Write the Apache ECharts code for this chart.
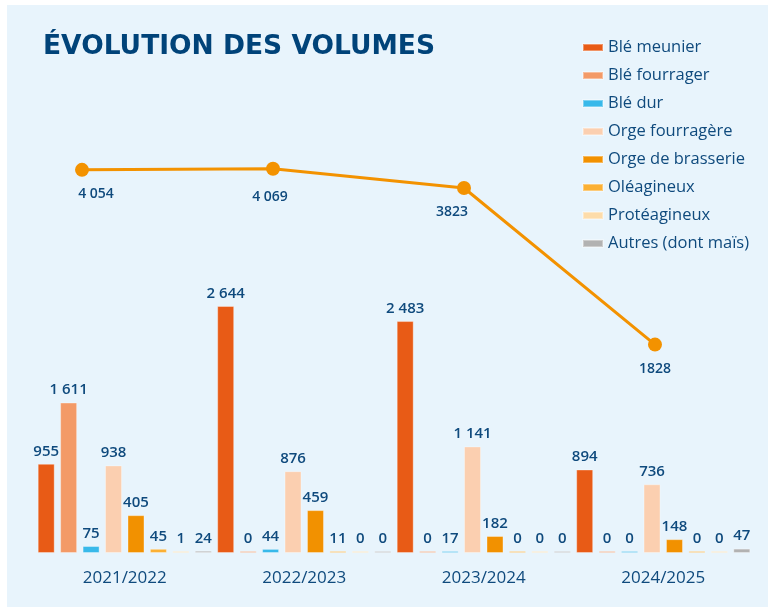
<!DOCTYPE html>
<html>
<head>
<meta charset="utf-8">
<script src="https://cdn.jsdelivr.net/npm/echarts@6/dist/echarts.min.js"></script>
<style>
  html, body { margin: 0; padding: 0; background: #fff; }
  #main { width: 773px; height: 611px; }
</style>
</head>
<body>
<div id="main"></div>
<script>
// campagnes
var campagnes = ['2021/2022', '2022/2023', '2023/2024', '2024/2025'];
// volumes par culture
var bleMeunier = [955, 2644, 2483, 894];
var bleFourrager = [1611, 0, 0, 0];
var bleDur = [75, 44, 17, 0];
var orgeFourragere = [938, 876, 1141, 736];
var orgeBrasserie = [405, 459, 182, 148];
var oleagineux = [45, 11, 0, 0];
var proteagineux = [1, 0, 0, 0];
var autres = [24, 0, 0, 47];
// total
var total = [4054, 4069, 3823, 1828];
var totalLabels = ['4 054', '4 069', '3823', '1828'];

var bleu = '#0f4a7d';
var chart = echarts.init(document.getElementById('main'));

function fmt(v) {
  return String(v).replace(/\B(?=(\d{3})+(?!\d))/g, ' ');
}

function barSerie(name, data, color) {
  return {
    name: name,
    type: 'bar',
    data: data,
    barGap: '32%',
    barCategoryGap: '3%',
    barMinHeight: 2,
    itemStyle: {
      color: color,
      borderColor: 'rgba(255,255,255,0.35)',
      borderWidth: 1
    },
    label: {
      show: true,
      position: 'top',
      distance: 5,
      color: bleu,
      fontFamily: 'Open Sans',
      fontWeight: 600,
      fontSize: 15,
      formatter: function (p) { return fmt(p.value); }
    }
  };
}

// petits decalages des etiquettes du total, comme sur l'original
var labelShift = [[14, 0], [-3, 4], [-12, 0], [0, 0]];

var option = {
  backgroundColor: '#ffffff',
  animation: false,
  graphic: [{
    type: 'rect',
    z: -10,
    shape: { x: 7, y: 5, width: 761, height: 602 },
    style: { fill: '#e8f4fc' }
  }],
  title: {
    text: 'ÉVOLUTION DES VOLUMES',
    left: 38,
    top: 29,
    textStyle: {
      color: '#004379',
      fontFamily: 'DejaVu Sans',
      fontWeight: 'bold',
      fontSize: 26.5
    }
  },
  legend: {
    orient: 'vertical',
    left: 577,
    top: 34,
    itemWidth: 20,
    itemHeight: 7,
    itemGap: 11,
    icon: 'rect',
    data: ['Blé meunier', 'Blé fourrager', 'Blé dur', 'Orge fourragère',
           'Orge de brasserie', 'Oléagineux', 'Protéagineux', 'Autres (dont maïs)'],
    textStyle: {
      color: bleu,
      fontFamily: 'Open Sans',
      fontSize: 16.5
    }
  },
  grid: [
    { left: 35, right: 20, top: 142, bottom: 58 },
    { left: 82, right: 118, top: 142, bottom: 58 }
  ],
  xAxis: [
    {
      type: 'category',
      gridIndex: 0,
      data: campagnes,
      axisLine: { show: false },
      axisTick: { show: false },
      axisLabel: {
        color: bleu,
        fontFamily: 'Open Sans',
        fontSize: 17,
        margin: 17
      }
    },
    {
      type: 'category',
      gridIndex: 1,
      data: campagnes,
      boundaryGap: false,
      show: false
    }
  ],
  yAxis: [
    { type: 'value', gridIndex: 0, min: 0, max: 4400, show: false, splitLine: { show: false } },
    { type: 'value', gridIndex: 1, min: -827, max: 4409, show: false, splitLine: { show: false } }
  ],
  series: [
    barSerie('Blé meunier', bleMeunier, '#e85b16'),
    barSerie('Blé fourrager', bleFourrager, '#f39a67'),
    barSerie('Blé dur', bleDur, '#38b9ea'),
    barSerie('Orge fourragère', orgeFourragere, '#fbcfb0'),
    barSerie('Orge de brasserie', orgeBrasserie, '#f29100'),
    barSerie('Oléagineux', oleagineux, '#fbb034'),
    barSerie('Protéagineux', proteagineux, '#fddcaa'),
    barSerie('Autres (dont maïs)', autres, '#b2b2b2'),
    {
      name: 'Total',
      type: 'line',
      xAxisIndex: 1,
      yAxisIndex: 1,
      data: total.map(function (v, i) {
        return { value: v, label: { offset: labelShift[i] } };
      }),
      symbol: 'circle',
      symbolSize: 14,
      lineStyle: { color: '#f39200', width: 3 },
      itemStyle: { color: '#f39200' },
      label: {
        show: true,
        position: 'bottom',
        distance: 10,
        color: bleu,
        fontFamily: 'Open Sans',
        fontWeight: 600,
        fontSize: 14,
        formatter: function (p) { return totalLabels[p.dataIndex]; }
      },
      z: 5
    }
  ]
};

chart.setOption(option);
</script>
</body>
</html>
